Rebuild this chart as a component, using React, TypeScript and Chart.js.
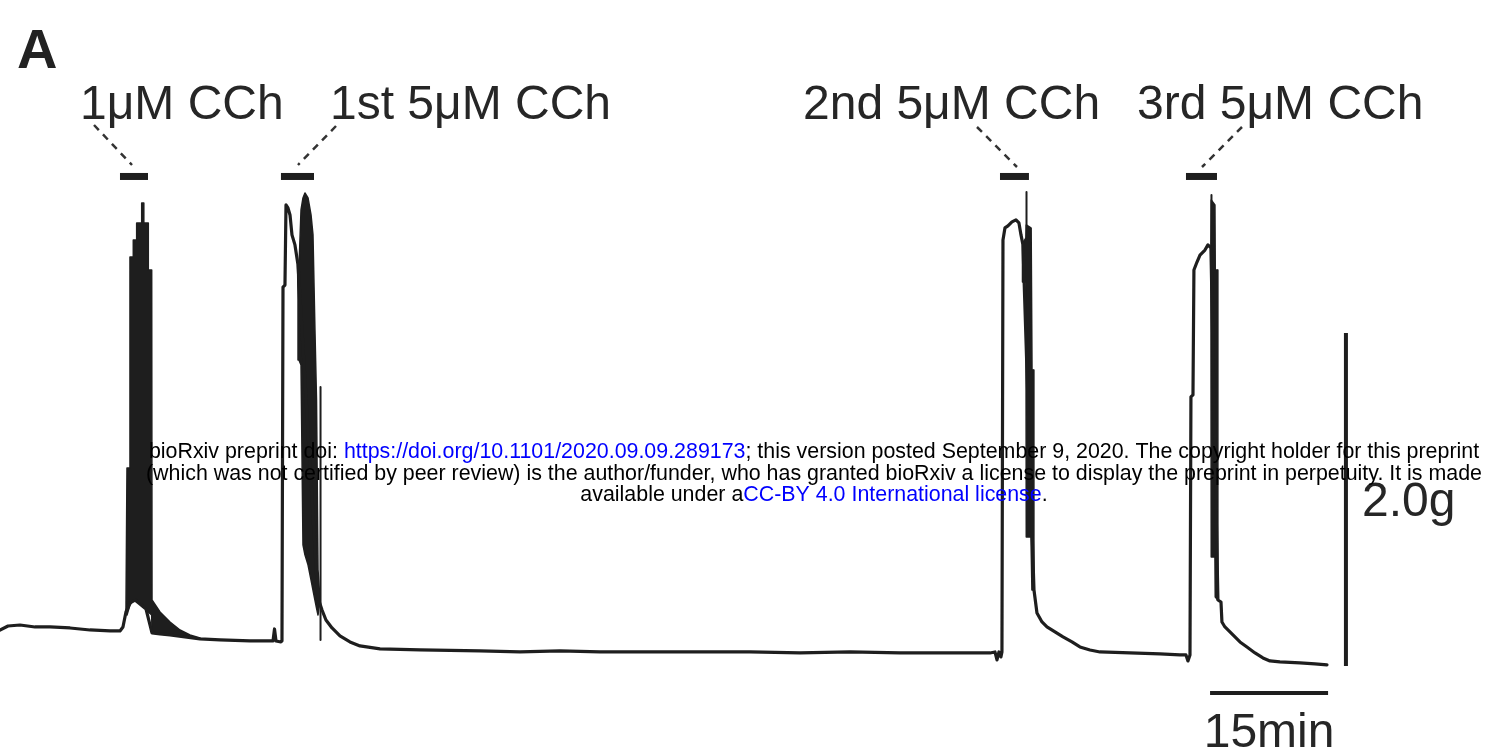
import { useEffect, useRef } from 'react';
import { Chart, registerables } from 'chart.js';

Chart.register(...registerables);

// Isometric tension recording: time in minutes, force in grams (relative to final resting level)
const traceTime = [
  0, 1.02, 2.54, 4.45, 6.35, 8.9, 11.44, 13.98, 15.25, 15.63, 16.01, 16.52, 17.16, 17.79, 18.56,
  19.32, 20.34, 21.61, 23.51, 25.42, 27.96, 31.77, 34.7, 34.89, 35.08, 35.71, 35.84, 35.97, 36.22,
  36.35, 36.6, 36.86, 37.11, 37.49, 37.88, 40.42, 40.93, 41.43, 42.2, 43.21, 44.48, 45.75, 48.3,
  53.38, 61.01, 66.09, 71.17, 76.26, 82.61, 88.97, 95.32, 101.68, 108.03, 114.39, 120.74, 125.83,
  126.46, 126.72, 126.97, 127.22, 127.35, 127.48, 127.73, 128.11, 128.62, 129.13, 129.51, 129.77,
  130.02, 131.42, 131.8, 132.44, 133.07, 134.09, 135.11, 136.25, 137.26, 138.54, 139.81, 143.62,
  147.43, 149.97, 150.74, 150.99, 151.25, 151.37, 151.63, 151.75, 152.14, 152.52, 153.15, 153.53,
  153.91, 154.8, 155.19, 155.31, 155.69, 156.71, 157.6, 158.49, 159.51, 160.52, 161.41, 162.68,
  165.23, 167.13, 168.66,
];
const traceForce = [
  0.216, 0.24, 0.246, 0.234, 0.234, 0.228, 0.216, 0.21, 0.21, 0.234, 0.324, 0.378, 0.396, 0.372, 0.342,
  0.198, 0.192, 0.186, 0.174, 0.162, 0.156, 0.15, 0.15, 0.222, 0.15, 0.144, 0.15, 2.276, 2.288,
  2.769, 2.751, 2.709, 2.589, 2.529, 2.408, 0.408, 0.336, 0.276, 0.228, 0.18, 0.144, 0.12, 0.102,
  0.096, 0.09, 0.084, 0.09, 0.084, 0.084, 0.084, 0.084, 0.078, 0.084, 0.078, 0.078, 0.078,
  0.084, 0.036, 0.084, 0.054, 0.084, 2.559, 2.631, 2.643, 2.667, 2.679, 2.661, 2.589,
  2.529, 0.456, 0.318, 0.264, 0.234, 0.204, 0.174, 0.144, 0.114, 0.096, 0.084, 0.078,
  0.072, 0.066, 0.066, 0.03, 0.066, 1.616, 1.628, 2.378, 2.426, 2.468, 2.498, 2.529,
  2.511, 0.396, 0.384, 0.264, 0.234, 0.186, 0.144, 0.114, 0.078, 0.048, 0.03, 0.024,
  0.018, 0.012, 0.006,
];

// Envelopes of the phasic (oscillating) contraction during each CCh exposure
const burst1Time = [
  16.01, 16.14, 16.52, 16.52, 16.94, 16.94, 17.37, 17.37, 17.95, 18.01, 18.21, 18.28, 18.85, 18.85,
  19.28, 19.32, 20.34, 21.61, 22.88, 24.15, 25.42,
];
const burst1Upper = [
  0.324, 1.189, 1.189, 2.456, 2.456, 2.559, 2.559, 2.661, 2.661, 2.781, 2.781, 2.661, 2.661, 2.378,
  2.378, 0.396, 0.324, 0.264, 0.216, 0.186, 0.168,
];
const burst1Lower = [
  0.324, 0.306, 0.366, 0.366, 0.396, 0.396, 0.396, 0.396, 0.372, 0.372, 0.36, 0.36, 0.324, 0.324,
  0.306, 0.198, 0.192, 0.186, 0.18, 0.174, 0.168,
];

const burst2Time = [37.82, 37.88, 38.0, 38.26, 38.51, 38.76, 39.15, 39.53, 39.78, 40.03, 40.23, 40.42, 40.67];
const burst2Upper = [2.408, 2.378, 2.39, 2.739, 2.811, 2.841, 2.811, 2.709, 2.589, 2.018, 1.598, 0.577, 0.396];
const burst2Lower = [2.408, 2.198, 1.838, 1.808, 0.727, 0.667, 0.607, 0.517, 0.456, 0.396, 0.348, 0.306, 0.396];

const burst3Time = [129.96, 130.02, 130.4, 130.44, 131.04, 131.06, 131.16, 131.17, 131.39, 131.42];
const burst3Upper = [2.529, 2.541, 2.571, 2.649, 2.631, 2.631, 2.631, 1.778, 1.778, 0.456];
const burst3Lower = [2.529, 2.306, 2.306, 0.775, 0.775, 0.456, 0.456, 0.456, 0.456, 0.456];

const burst4Time = [153.91, 153.95, 154.42, 154.46, 154.78, 154.8];
const burst4Upper = [2.511, 2.799, 2.769, 2.378, 2.378, 0.396];
const burst4Lower = [2.511, 0.655, 0.655, 0.414, 0.396, 0.396];

// Brief single twitches recorded as isolated spikes
const spikeTime = [40.74, 130.47, 153.98];
const spikeFrom = [0.156, 2.318, 2.498];
const spikeTo = [1.676, 2.847, 2.829];

// Drug application periods (min) and their labels
const drugLabels = ['1\u03bcM CCh', '1st 5\u03bcM CCh', '2nd 5\u03bcM CCh', '3rd 5\u03bcM CCh'];
const drugStart = [15.25, 35.71, 127.1, 150.74];
const drugEnd = [18.81, 39.91, 130.78, 154.68];
const drugBarLevel = 2.94;

// Calibration bars
const scaleForce = 2.0; // g
const scaleTime = 15; // min
const scaleForceAt = 171.07; // min
const scaleTimeFrom = 153.8; // min
const scaleTimeLevel = -0.162; // g

const INK = '#1e1e1e';

// Label placement (px)
const labelLeft = [80, 330, 803, 1137];
const labelBaseline = 119;
const leaderFrom = [[94, 125], [336, 126], [977, 127], [1242, 127]];
const leaderTo = [[132, 165], [298, 165], [1017, 167], [1202, 167]];

const W = 1487;
const H = 753;

function pts(xs: number[], ys: number[]) {
  return xs.map((x, i) => ({ x, y: ys[i] }));
}

// Closed outline: along the upper envelope, then back along the lower one
function band(xs: number[], up: number[], lo: number[]) {
  return [...pts(xs, up), ...pts(xs, lo).reverse()];
}

const decorations = {
  id: 'decorations',
  afterDatasetsDraw(chart: any) {
    const { ctx } = chart;
    const xs = chart.scales.x;
    const ys = chart.scales.y;
    ctx.save();
    ctx.fillStyle = INK;
    ctx.strokeStyle = INK;

    // Drug application bars
    const by = ys.getPixelForValue(drugBarLevel);
    drugStart.forEach((s, i) => {
      const x0 = xs.getPixelForValue(s);
      const x1 = xs.getPixelForValue(drugEnd[i]);
      ctx.fillRect(x0, by - 3.5, x1 - x0, 7);
    });

    // Labels
    ctx.font = "48px 'Liberation Sans', Arial, sans-serif";
    ctx.textBaseline = 'alphabetic';
    ctx.textAlign = 'left';
    ctx.fillStyle = '#262626';
    drugLabels.forEach((t, i) => ctx.fillText(t, labelLeft[i], labelBaseline));

    // Dashed leaders
    ctx.lineWidth = 2.5;
    ctx.setLineDash([7, 6]);
    ctx.strokeStyle = '#333';
    leaderFrom.forEach((p, i) => {
      ctx.beginPath();
      ctx.moveTo(p[0], p[1]);
      ctx.lineTo(leaderTo[i][0], leaderTo[i][1]);
      ctx.stroke();
    });
    ctx.setLineDash([]);

    // Panel letter
    ctx.font = "bold 56px 'Liberation Sans', Arial, sans-serif";
    ctx.fillStyle = '#222';
    ctx.fillText('A', 17, 68);

    // Calibration bars
    ctx.strokeStyle = INK;
    ctx.lineWidth = 4;
    const vx = xs.getPixelForValue(scaleForceAt);
    ctx.beginPath();
    ctx.moveTo(vx, ys.getPixelForValue(0));
    ctx.lineTo(vx, ys.getPixelForValue(scaleForce));
    ctx.stroke();
    const hy = ys.getPixelForValue(scaleTimeLevel);
    const hx0 = xs.getPixelForValue(scaleTimeFrom);
    const hx1 = xs.getPixelForValue(scaleTimeFrom + scaleTime);
    ctx.beginPath();
    ctx.moveTo(hx0, hy);
    ctx.lineTo(hx1, hy);
    ctx.stroke();

    ctx.font = "48px 'Liberation Sans', Arial, sans-serif";
    ctx.fillStyle = '#262626';
    ctx.fillText(scaleForce.toFixed(1) + 'g', vx + 16, 516);
    ctx.textAlign = 'center';
    ctx.fillText(scaleTime + 'min', (hx0 + hx1) / 2, 747);
    ctx.restore();
  },
};

function drawNotice(canvas: HTMLCanvasElement) {
  const ctx = canvas.getContext('2d');
  if (!ctx) return;
  ctx.clearRect(0, 0, W, H);
  ctx.font = "21.4px 'Liberation Sans', Arial, sans-serif";
  ctx.textBaseline = 'alphabetic';
  const lines: [string, string][][] = [
    [
      ['bioRxiv preprint doi: ', '#000'],
      ['https://doi.org/10.1101/2020.09.09.289173', '#0000ff'],
      ['; this version posted September 9, 2020. The copyright holder for this preprint', '#000'],
    ],
    [
      ['(which was not certified by peer review) is the author/funder, who has granted bioRxiv a license to display the preprint in perpetuity. It is made', '#000'],
    ],
    [
      ['available under a', '#000'],
      ['CC-BY 4.0 International license', '#0000ff'],
      ['.', '#000'],
    ],
  ];
  const baselines = [458, 480, 501];
  const cx = 814;
  lines.forEach((segs, li) => {
    const total = segs.reduce((s, [t]) => s + ctx.measureText(t).width, 0);
    let x = cx - total / 2;
    segs.forEach(([t, c]) => {
      ctx.fillStyle = c;
      ctx.fillText(t, x, baselines[li]);
      x += ctx.measureText(t).width;
    });
  });
}

export default function App() {
  const chartRef = useRef<HTMLCanvasElement>(null);
  const noteRef = useRef<HTMLCanvasElement>(null);

  useEffect(() => {
    if (!chartRef.current) return;
    const envelope = (t: number[], up: number[], lo: number[]) => ({
      data: band(t, up, lo),
      borderColor: INK,
      borderWidth: 1.5,
      fill: 'shape',
      backgroundColor: INK,
    });
    const spikes = spikeTime.map((t, i) => ({
      data: [{ x: t, y: spikeFrom[i] }, { x: t, y: spikeTo[i] }],
      borderColor: INK,
      borderWidth: 2,
      fill: false,
    }));
    const chart = new Chart(chartRef.current, {
      type: 'line',
      data: {
        datasets: [
          { data: pts(traceTime, traceForce), borderColor: INK, borderWidth: 3.2, fill: false },
          envelope(burst1Time, burst1Upper, burst1Lower),
          envelope(burst2Time, burst2Upper, burst2Lower),
          envelope(burst3Time, burst3Upper, burst3Lower),
          envelope(burst4Time, burst4Upper, burst4Lower),
          ...spikes,
        ] as any,
      },
      options: {
        responsive: false,
        animation: false,
        devicePixelRatio: 1,
        layout: { padding: 0 },
        elements: {
          point: { radius: 0, hoverRadius: 0 },
          line: { tension: 0, borderJoinStyle: 'round', borderCapStyle: 'round' },
        },
        scales: {
          x: { type: 'linear', min: 0, max: 189, display: false },
          y: { type: 'linear', min: -0.523, max: 4.0, display: false },
        },
        plugins: {
          legend: { display: false },
          tooltip: { enabled: false },
          title: { display: false },
        },
      },
      plugins: [decorations],
    });
    if (noteRef.current) drawNotice(noteRef.current);
    return () => chart.destroy();
  }, []);

  return (
    <div style={{ position: 'fixed', left: 0, top: 0, width: W, height: H, background: '#fff', overflow: 'hidden' }}>
      <canvas
        ref={chartRef}
        width={W}
        height={H}
        style={{ position: 'absolute', left: 0, top: 0, width: W, height: H, filter: 'blur(0.5px)' }}
      />
      <canvas
        ref={noteRef}
        width={W}
        height={H}
        style={{ position: 'absolute', left: 0, top: 0, width: W, height: H, pointerEvents: 'none' }}
      />
    </div>
  );
}
